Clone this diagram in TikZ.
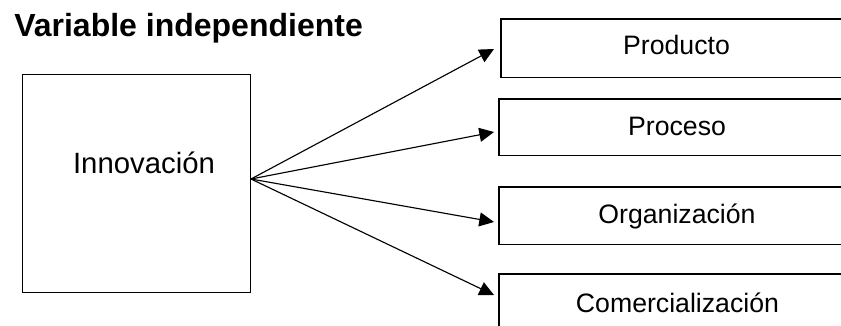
\documentclass[tikz,border=0pt]{standalone}
\usepackage{fontspec}
\setmainfont{Liberation Sans}
\usetikzlibrary{arrows.meta}
\begin{document}
\begin{tikzpicture}[x=0.75pt,y=-0.75pt,
  boxnode/.style={draw,line width=0.8pt,inner sep=0pt,anchor=north west},
  openbox/.style={draw=none,inner sep=0pt,anchor=north west,minimum width=270pt},
  edge/.style={line width=0.8pt},
  lbl/.style={inner sep=0pt,anchor=base,font=\fontsize{20pt}{24pt}\selectfont},
  conn/.style={line width=0.85pt,-{Triangle[length=11pt,width=10.5pt]}}]
\useasboundingbox (0,0) rectangle (841,325);
\fill[white] (0,0) rectangle (841,325);
% title
\node[inner sep=0pt,anchor=base west,font=\fontsize{24pt}{28pt}\selectfont\bfseries] (title) at (14,36) {Variable independiente};
% left box
\node[boxnode,minimum width=171pt,minimum height=163.5pt] (inn) at (22,74) {};
\node[inner sep=0pt,anchor=base,font=\fontsize{22pt}{26pt}\selectfont] (innt) at (144,173) {Innovación};
% right boxes (they run past the right edge of the picture)
\node[openbox,minimum height=43.5pt] (prod) at (501,19) {};
\node[openbox,minimum height=42pt] (proc) at (499,99) {};
\node[openbox,minimum height=42.75pt] (org) at (499,187) {};
\node[openbox,minimum height=45pt] (com) at (499,274) {};
\foreach \b in {prod,proc,org} {
  \draw[edge] (\b.north east) -- (\b.north west) -- (\b.south west) -- (\b.south east);
}
\draw[edge] (com.south west) -- (com.north west) -- (com.north east);
\node[lbl] (prodt) at (676.5,54) {Producto};
\node[lbl] (proct) at (677,135) {Proceso};
\node[lbl] (orgt) at (677,223) {Organización};
\node[lbl] (comt) at (677.5,312) {Comercialización};
% connectors
\coordinate (src) at (251,179);
\coordinate (e1) at (494,49);
\coordinate (e2) at (494,132);
\coordinate (e3) at (494,222);
\coordinate (e4) at (494,295);
\draw[conn] (src) -- (e1);
\draw[conn] (src) -- (e2);
\draw[conn] (src) -- (e3);
\draw[conn] (src) -- (e4);
\end{tikzpicture}
\end{document}
